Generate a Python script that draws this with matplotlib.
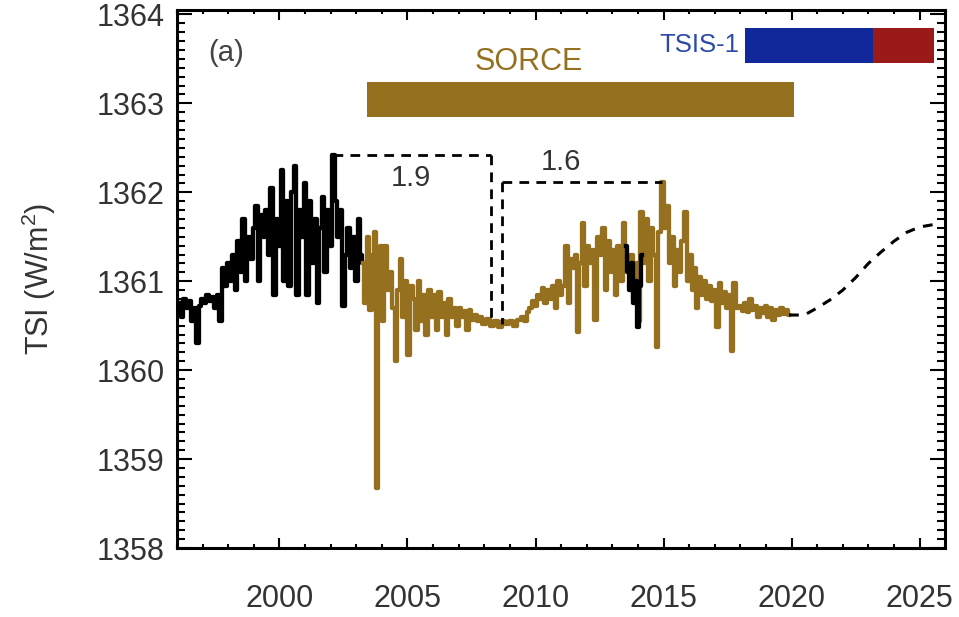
import matplotlib
matplotlib.use("Agg")
import matplotlib.pyplot as plt
from matplotlib.ticker import MultipleLocator

plt.rcParams['font.family'] = ['Liberation Sans', 'DejaVu Sans']
plt.rcParams['mathtext.fontset'] = 'custom'
plt.rcParams['mathtext.rm'] = 'Liberation Sans'
plt.rcParams['mathtext.it'] = 'Liberation Sans'

GOLD = '#94701f'
TEXT = '#333333'

# composite record before SORCE
years_pre = [1996.0, 1996.1, 1996.2, 1996.3, 1996.4, 1996.5, 1996.6, 1996.7, 1996.8, 1996.9,
             1997.0, 1997.1, 1997.2, 1997.3, 1997.4, 1997.5, 1997.6, 1997.7, 1997.8, 1997.9,
             1998.0, 1998.1, 1998.2, 1998.3, 1998.4, 1998.5, 1998.6, 1998.7, 1998.8, 1998.9,
             1999.0, 1999.1, 1999.2, 1999.3, 1999.4, 1999.5, 1999.6, 1999.7, 1999.8, 1999.9,
             2000.0, 2000.1, 2000.2, 2000.3, 2000.4, 2000.5, 2000.6, 2000.7, 2000.8, 2000.9,
             2001.0, 2001.1, 2001.2, 2001.3, 2001.4, 2001.5, 2001.6, 2001.7, 2001.8, 2001.9,
             2002.0, 2002.1, 2002.2, 2002.3, 2002.4, 2002.5, 2002.6, 2002.7, 2002.8, 2002.9,
             2003.0, 2003.1, 2003.2, 2003.27]
tsi_pre = [1360.65, 1360.75, 1360.6, 1360.8, 1360.7, 1360.78, 1360.55, 1360.7, 1360.3, 1360.72,
           1360.8, 1360.75, 1360.85, 1360.78, 1360.82, 1360.7, 1360.85, 1360.55, 1361.15, 1360.95,
           1361.2, 1361.0, 1361.3, 1360.9, 1361.45, 1361.1, 1361.7, 1361.0, 1361.5, 1361.25,
           1361.6, 1361.85, 1361.0, 1361.75, 1361.5, 1361.8, 1361.3, 1362.05, 1360.85, 1361.7,
           1361.4, 1362.25, 1361.0, 1361.9, 1360.95, 1362.0, 1362.3, 1360.85, 1361.8, 1361.5,
           1362.1, 1360.85, 1361.9, 1361.2, 1361.7, 1360.75, 1361.6, 1361.95, 1361.1, 1361.8,
           1361.4, 1362.42, 1361.9, 1361.5, 1361.8, 1360.72, 1361.3, 1361.6, 1361.15, 1361.5,
           1361.0, 1361.7, 1361.3, 1361.2]

# SORCE TIM record
years_sorce = [2003.27, 2003.35, 2003.45, 2003.55, 2003.65, 2003.72, 2003.8, 2003.88, 2003.95, 2004.05,
               2004.15, 2004.25, 2004.35, 2004.45, 2004.55, 2004.65, 2004.75, 2004.85, 2004.95, 2005.05,
               2005.15, 2005.25, 2005.35, 2005.45, 2005.55, 2005.65, 2005.75, 2005.85, 2005.95, 2006.05,
               2006.15, 2006.25, 2006.35, 2006.45, 2006.55, 2006.65, 2006.75, 2006.85, 2006.95, 2007.05,
               2007.15, 2007.25, 2007.35, 2007.45, 2007.55, 2007.65, 2007.75, 2007.85, 2008.0, 2008.15,
               2008.3, 2008.45, 2008.6, 2008.75, 2008.9, 2009.05, 2009.2, 2009.35, 2009.5, 2009.6,
               2009.7, 2009.8, 2009.9, 2010.0, 2010.1, 2010.2, 2010.3, 2010.4, 2010.5, 2010.6,
               2010.7, 2010.8, 2010.9, 2011.0, 2011.1, 2011.2, 2011.3, 2011.4, 2011.5, 2011.6,
               2011.65, 2011.75, 2011.85, 2011.95, 2012.05, 2012.15, 2012.25, 2012.35, 2012.45, 2012.55,
               2012.65, 2012.75, 2012.85, 2012.95, 2013.05, 2013.15, 2013.25, 2013.35, 2013.45, 2013.55,
               2013.65, 2013.75, 2013.85, 2013.95, 2014.05, 2014.15, 2014.25, 2014.35, 2014.45, 2014.55,
               2014.65, 2014.73, 2014.85, 2014.95, 2015.05, 2015.15, 2015.25, 2015.35, 2015.45, 2015.55,
               2015.65, 2015.75, 2015.85, 2015.95, 2016.05, 2016.15, 2016.25, 2016.3, 2016.4, 2016.5,
               2016.6, 2016.7, 2016.8, 2016.9, 2017.0, 2017.1, 2017.2, 2017.3, 2017.4, 2017.5,
               2017.6, 2017.68, 2017.78, 2017.88, 2018.0, 2018.1, 2018.2, 2018.3, 2018.4, 2018.5,
               2018.6, 2018.7, 2018.8, 2018.9, 2019.0, 2019.1, 2019.2, 2019.3, 2019.4, 2019.5,
               2019.6, 2019.7, 2019.8, 2019.9]
tsi_sorce = [1361.2, 1360.75, 1361.5, 1360.68, 1361.3, 1361.55, 1358.68, 1361.2, 1361.4, 1360.55,
             1361.4, 1360.9, 1361.1, 1360.7, 1360.1, 1360.9, 1361.25, 1360.6, 1361.0, 1360.17,
             1360.95, 1360.8, 1360.45, 1361.0, 1360.55, 1360.85, 1360.4, 1360.9, 1360.6, 1360.85,
             1360.45, 1360.88, 1360.6, 1360.75, 1360.4, 1360.8, 1360.6, 1360.7, 1360.5, 1360.7,
             1360.6, 1360.66, 1360.45, 1360.68, 1360.56, 1360.62, 1360.55, 1360.6, 1360.52, 1360.58,
             1360.5, 1360.55, 1360.48, 1360.55, 1360.52, 1360.55, 1360.5, 1360.56, 1360.6, 1360.55,
             1360.65, 1360.7, 1360.78, 1360.72, 1360.85, 1360.8, 1360.92, 1360.75, 1360.9, 1360.8,
             1360.95, 1360.7, 1361.0, 1360.85, 1360.95, 1361.4, 1360.75, 1361.25, 1361.15, 1361.3,
             1360.43, 1361.2, 1361.65, 1360.95, 1361.4, 1361.2, 1361.35, 1360.56, 1361.5, 1361.3,
             1361.6, 1360.9, 1361.45, 1361.1, 1361.35, 1360.85, 1361.4, 1361.0, 1361.66, 1361.2,
             1361.1, 1361.3, 1360.8, 1361.2, 1360.55, 1361.78, 1361.2, 1361.7, 1361.0, 1361.6,
             1361.3, 1360.26, 1361.55, 1362.12, 1361.6, 1361.85, 1361.2, 1361.5, 1360.95, 1361.35,
             1361.1, 1361.45, 1361.78, 1361.0, 1361.3, 1360.9, 1361.15, 1360.7, 1361.05, 1360.85,
             1361.0, 1360.8, 1360.95, 1360.78, 1360.9, 1360.48, 1360.98, 1360.75, 1360.88, 1360.7,
             1360.85, 1360.22, 1360.98, 1360.7, 1360.72, 1360.66, 1360.75, 1360.65, 1360.8, 1360.68,
             1360.72, 1360.6, 1360.7, 1360.64, 1360.72, 1360.6, 1360.7, 1360.56, 1360.68, 1360.62,
             1360.7, 1360.63, 1360.68, 1360.62]

# gap-filling segment during the SORCE battery outage
years_gap = [2013.55, 2013.62, 2013.7, 2013.78, 2013.86, 2013.94, 2014.02, 2014.1, 2014.15]
tsi_gap = [1361.4, 1361.1, 1360.9, 1361.2, 1360.75, 1361.0, 1360.48, 1360.95, 1361.3]

# cycle 25 prediction
years_pred = [2019.9, 2020.5, 2021.0, 2021.5, 2022.0, 2022.5, 2023.0, 2023.5, 2024.0, 2024.5, 2025.0, 2025.6]
tsi_pred = [1360.62, 1360.62, 1360.7, 1360.79, 1360.9, 1361.04, 1361.2, 1361.33, 1361.45, 1361.55, 1361.61, 1361.64]

# mission periods
sorce_span = (2003.4, 2020.1)
tsis_span = (2018.2, 2023.2)
tsis_ext_span = (2023.2, 2025.55)

# solar-cycle amplitudes above the 2008 minimum
min_tsi = 1360.52
amp23, amp24 = 1.9, 1.6
max23_year, max24_year = 2002.1, 2014.95
min_left, min_right = 2008.28, 2008.68

fig = plt.figure(figsize=(9.59, 6.17), dpi=100)
ax = fig.add_axes([0.1846, 0.1118, 0.801, 0.872])

ax.plot(years_pre, tsi_pre, color='black', lw=3.1, drawstyle='steps-mid')
ax.plot(years_sorce, tsi_sorce, color=GOLD, lw=3.1, drawstyle='steps-mid')
ax.plot(years_gap, tsi_gap, color='black', lw=3.1, drawstyle='steps-mid')
ax.plot(years_pred, tsi_pred, color='black', lw=2.2, linestyle=(0, (3.2, 2.8)))

dash = (0, (3.5, 2.6))
top23 = min_tsi + amp23
top24 = min_tsi + amp24
ax.plot([max23_year, min_left], [top23, top23], color='black', lw=2.0, linestyle=dash)
ax.plot([min_left, min_left], [top23, min_tsi], color='black', lw=2.0, linestyle=dash)
ax.plot([min_right, max24_year], [top24, top24], color='black', lw=2.0, linestyle=dash)
ax.plot([min_right, min_right], [top24, min_tsi], color='black', lw=2.0, linestyle=dash)

ax.text(2005.15, 1362.16, f'{amp23:.1f}', fontsize=21, color=TEXT, ha='center', va='center')
ax.text(2011.0, 1362.34, f'{amp24:.1f}', fontsize=21, color=TEXT, ha='center', va='center')

# mission bars
ax.barh(1363.04, sorce_span[1] - sorce_span[0], left=sorce_span[0], height=0.39, color=GOLD)
ax.barh(1363.65, tsis_span[1] - tsis_span[0], left=tsis_span[0], height=0.39, color='#10289a')
ax.barh(1363.65, tsis_ext_span[1] - tsis_ext_span[0], left=tsis_ext_span[0], height=0.39, color='#9a1a1a')
ax.text(2009.75, 1363.46, 'SORCE', fontsize=22, color=GOLD, ha='center', va='center')
ax.text(2017.95, 1363.66, 'TSIS-1', fontsize=18.5, color='#2d4aa8', ha='right', va='center')
ax.text(1997.9, 1363.57, '(a)', fontsize=21, color='#444444', ha='center', va='center')

ax.set_xlim(1996, 2026)
ax.set_ylim(1358, 1364.05)
ax.xaxis.set_major_locator(MultipleLocator(5))
ax.xaxis.set_minor_locator(MultipleLocator(1))
ax.yaxis.set_major_locator(MultipleLocator(1))
ax.yaxis.set_minor_locator(MultipleLocator(0.1))
ax.set_xticks([2000, 2005, 2010, 2015, 2020, 2025])

ax.tick_params(axis='both', which='both', direction='in', top=True, right=True,
               width=1.5, labelsize=22, labelcolor=TEXT)
ax.tick_params(axis='x', which='major', length=7, pad=26)
ax.tick_params(axis='x', which='minor', length=3)
ax.tick_params(axis='y', which='major', length=11, pad=9)
ax.tick_params(axis='y', which='minor', length=5.5)
for s in ax.spines.values():
    s.set_linewidth(2.2)

ax.set_ylabel(r'TSI (W/m$^2$)', fontsize=22, color=TEXT, labelpad=28)

fig.savefig('out.png', dpi=100)
